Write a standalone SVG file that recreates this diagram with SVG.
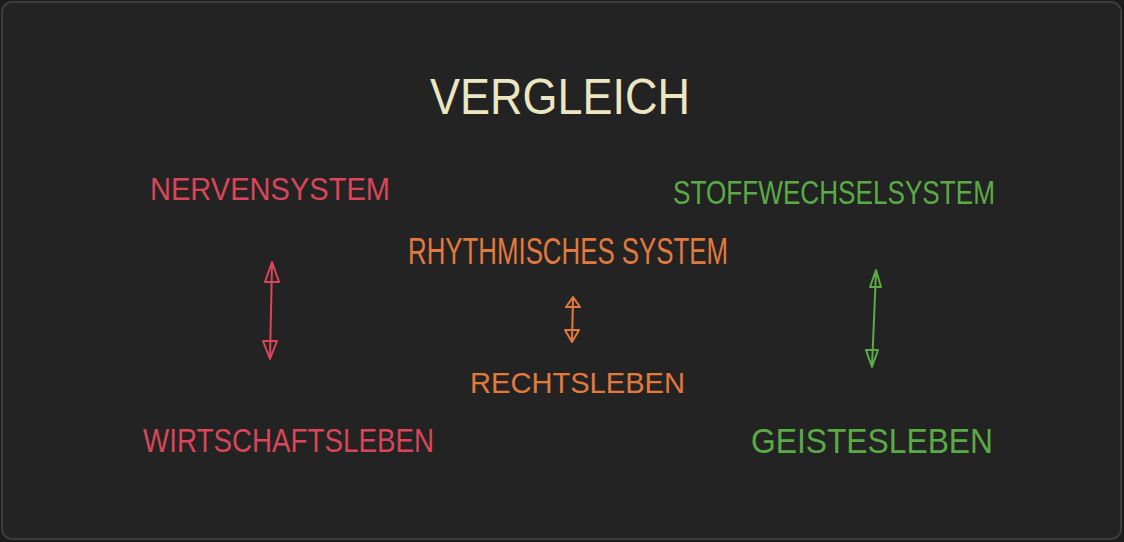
<svg xmlns="http://www.w3.org/2000/svg" width="1124" height="542" viewBox="0 0 1124 542">
<style>
.lbl{font-family:"Liberation Sans","DejaVu Sans",sans-serif}
.red{fill:#d9465a}
.org{fill:#e27a3e}
.grn{fill:#5aab46}
.cre{fill:#ece6c2}
.con{fill:none;stroke-width:2;stroke-linejoin:round;stroke-linecap:round}
.cr{stroke:#d9465a}
.co{stroke:#e27a3e}
.cg{stroke:#5aab46}
</style>
<rect x="0" y="0" width="1124" height="542" fill="#1c1c1c"/>
<rect x="2" y="2" width="1119" height="537" rx="10" fill="#232323" stroke="#3c3c3c" stroke-width="2"/>
<g id="title"><text class="lbl cre" x="430" y="114" font-size="50" textLength="260" lengthAdjust="spacingAndGlyphs">VERGLEICH</text></g>
<g id="nervensystem"><text class="lbl red" x="150" y="200" font-size="32" textLength="240" lengthAdjust="spacingAndGlyphs">NERVENSYSTEM</text></g>
<g id="stoffwechselsystem"><text class="lbl grn" x="673" y="204" font-size="33" textLength="322" lengthAdjust="spacingAndGlyphs">STOFFWECHSELSYSTEM</text></g>
<g id="rhythmisches"><text class="lbl org" x="408" y="264" font-size="37" textLength="320" lengthAdjust="spacingAndGlyphs">RHYTHMISCHES SYSTEM</text></g>
<g id="rechtsleben"><text class="lbl org" x="470" y="393" font-size="30" textLength="215" lengthAdjust="spacingAndGlyphs">RECHTSLEBEN</text></g>
<g id="wirtschaftsleben"><text class="lbl red" x="143" y="452" font-size="34" textLength="291" lengthAdjust="spacingAndGlyphs">WIRTSCHAFTSLEBEN</text></g>
<g id="geistesleben"><text class="lbl grn" x="751" y="453" font-size="35" textLength="242" lengthAdjust="spacingAndGlyphs">GEISTESLEBEN</text></g>
<g id="connectors">
<path class="con cr" d="M272,265 L270,357 M272,262 L265,282 L279,282 Z M263,341 L277,341 L270,359 Z"/>
<path class="con co" d="M573,298 L572,341 M573,297 L566,307 L580,307 Z M565,330 L579,330 L572,342 Z"/>
<path class="con cg" d="M876,272 L872,366 M876,270 L870,287 L881,287 Z M866,350 L878,350 L872,367 Z"/>
</g>
</svg>
